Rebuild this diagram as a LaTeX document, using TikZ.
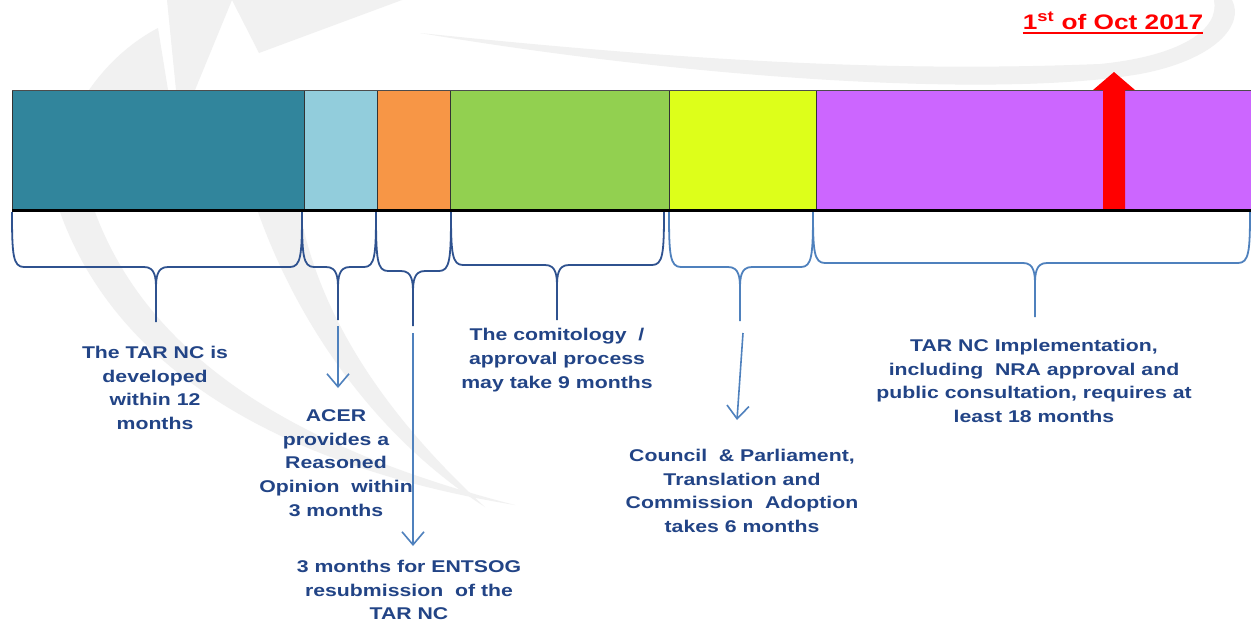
\documentclass[tikz,border=0pt]{standalone}
\usepackage{fontspec}
\setmainfont{Liberation Sans}[FakeStretch=1.25]
\usetikzlibrary{arrows.meta}

\definecolor{segteal}{HTML}{31859C}
\definecolor{segsky}{HTML}{92CDDC}
\definecolor{segorange}{HTML}{F79646}
\definecolor{seggreen}{HTML}{92D050}
\definecolor{seglime}{HTML}{DDFF1A}
\definecolor{segviolet}{HTML}{CC66FF}
\definecolor{bracedark}{HTML}{2F528F}
\definecolor{bracelight}{HTML}{4F81BD}
\definecolor{txtblue}{RGB}{34,68,134}
\definecolor{swoosh}{HTML}{F1F1F1}

% curly brace under the timeline: #1 left end, #2 right end, #3 tip x,
% #4 level of the flat part, #5 end of the tip, #6 style
\newcommand\timebrace[6]{%
  \draw[#6] (#1,212) .. controls (#1,#4-12) and (#1+1,#4) .. (#1+12,#4)
    -- (#3-12,#4) .. controls (#3-1,#4) and (#3,#4+10) .. (#3,#4+22) -- (#3,#5);
  \draw[#6] (#2,212) .. controls (#2,#4-12) and (#2-1,#4) .. (#2-12,#4)
    -- (#3+12,#4) .. controls (#3+1,#4) and (#3,#4+10) .. (#3,#4+22);
}

\begin{document}
\begin{tikzpicture}[x=1pt,y=-1pt,
  bracedk/.style={draw=bracedark, line width=1.8pt, line join=round},
  bracelt/.style={draw=bracelight, line width=1.8pt, line join=round},
  sep/.style={draw=black!80, line width=0.9pt},
  lbl/.style={text=txtblue, font=\bfseries\fontsize{17}{23.7}\selectfont,
              align=center, inner sep=0pt},
  arr/.style={draw=bracelight, line width=1.6pt,
              -{Straight Barb[length=13pt,width=22pt,line width=1.6pt]}},
  datelbl/.style={text=red, font=\bfseries\fontsize{21}{24}\selectfont, inner sep=0pt}]

\useasboundingbox (0,0) rectangle (1251,624);
\fill[white] (0,0) rectangle (1251,624);

% faint logo swooshes in the background
\fill[swoosh] (420,33) .. controls (700,80) and (1000,98) .. (1140,74)
  .. controls (1215,60) and (1245,25) .. (1232,0) -- (1214,0)
  .. controls (1220,30) and (1180,56) .. (1100,64)
  .. controls (900,72) and (700,62) .. (420,33) -- cycle;
\fill[swoosh] (89,90) .. controls (110,60) and (135,40) .. (158,28)
  -- (168,90) -- cycle;
\fill[swoosh] (167,0) -- (232,0) -- (195,90) -- (176,90) -- cycle;
\fill[swoosh] (232,0) -- (402,0) -- (259,53) -- cycle;
\fill[swoosh] (60,212) -- (95,212) .. controls (150,360) and (300,450) .. (515,505)
  .. controls (300,470) and (120,380) .. (60,212) -- cycle;
\fill[swoosh] (258,212) -- (300,212) .. controls (320,320) and (390,420) .. (485,507)
  .. controls (380,440) and (300,330) .. (258,212) -- cycle;

% the timeline bar
\fill[segteal]   (12,90)  rectangle (304,210);
\fill[segsky]    (304,90) rectangle (377,210);
\fill[segorange] (377,90) rectangle (450,210);
\fill[seggreen]  (450,90) rectangle (669,210);
\fill[seglime]   (669,90) rectangle (816,210);
\fill[segviolet] (816,90) rectangle (1251,210);
\foreach \xs in {12,304,377,450,669,816} \draw[sep] (\xs,90) -- (\xs,210);
\draw[draw=black!70, line width=1pt] (12,90) -- (1251,90);

% deadline marker
\fill[red] (1103,210) -- (1103,90) -- (1093,90) -- (1114,72) -- (1135,90)
  -- (1125,90) -- (1125,210) -- cycle;
\draw[line width=3pt] (12,210) -- (1251,210);

\node[datelbl, anchor=base] (date) at (1113,29) {1\textsuperscript{st} of Oct 2017};
\draw[red, line width=2pt] ([yshift=-3.5pt]date.south west) -- ([yshift=-3.5pt]date.south east);

% braces marking each phase
\timebrace{12}{302}{156}{267}{322}{bracedk}
\timebrace{302}{376}{338}{267}{320}{bracedk}
\timebrace{376}{451}{413}{271}{326}{bracedk}
\timebrace{451}{664}{557}{265}{320}{bracedk}
\timebrace{669}{813}{740}{267}{321}{bracelt}
\timebrace{813}{1250}{1035}{263}{317}{bracelt}

% phase descriptions
\node[lbl] (dev) at (155,388) {The TAR NC is\\developed\\within 12\\months};
\node[lbl] (acer) at (336,463) {ACER\\provides a\\Reasoned\\Opinion~ within\\3 months};
\node[lbl] (resub) at (409,590) {3 months for ENTSOG\\resubmission~ of the\\TAR NC};
\node[lbl] (comit) at (557,360) {The comitology~ /\\approval process\\may take 9 months};
\node[lbl] (council) at (742,491) {Council~ \& Parliament,\\Translation and\\Commission~ Adoption\\takes 6 months};
\node[lbl] (impl) at (1034,381) {TAR NC Implementation,\\including~ NRA approval and\\public consultation, requires at\\least 18 months};

% pointers from the braces to their descriptions
\coordinate (acerfrom) at (338,326);
\coordinate (acerto) at (338,388);
\coordinate (resubfrom) at (413,333);
\coordinate (resubto) at (413,546);
\coordinate (councilfrom) at (743,333);
\coordinate (councilto) at (737,420);
\draw[arr] (acerfrom) -- (acerto);
\draw[arr] (resubfrom) -- (resubto);
\draw[arr] (councilfrom) -- (councilto);
\end{tikzpicture}
\end{document}
